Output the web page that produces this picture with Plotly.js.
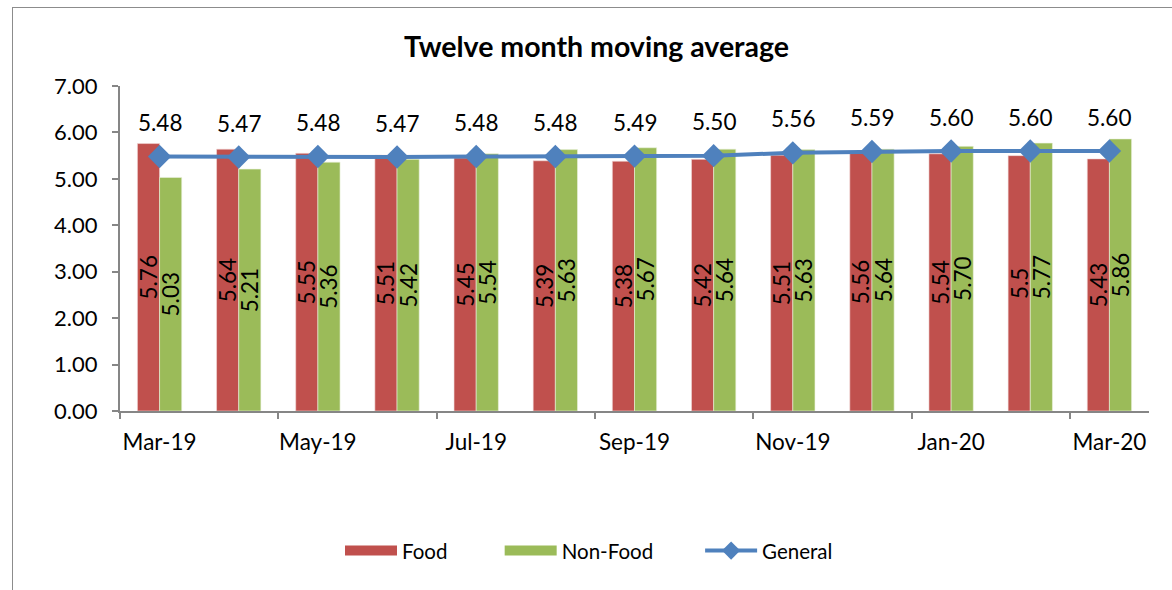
<!DOCTYPE html>
<html>
<head>
<meta charset="utf-8">
<script src="https://cdn.plot.ly/plotly-3.0.1.min.js"></script>
<style>
html,body{margin:0;padding:0;background:#fff;}
#wrap{position:relative;width:1172px;height:590px;overflow:hidden;}
#chart{width:1172px;height:590px;}
#frame{position:absolute;left:12px;top:7px;width:1300px;height:700px;border:1px solid #8c8c8c;pointer-events:none;}
</style>
</head>
<body>
<div id="wrap"><div id="chart"></div><div id="frame"></div></div>
<script>
const months = ["Mar-19","Apr-19","May-19","Jun-19","Jul-19","Aug-19","Sep-19","Oct-19","Nov-19","Dec-19","Jan-20","Feb-20","Mar-20"];
const food = [5.76,5.64,5.55,5.51,5.45,5.39,5.38,5.42,5.51,5.56,5.54,5.5,5.43];
const nonFood = [5.03,5.21,5.36,5.42,5.54,5.63,5.67,5.64,5.63,5.64,5.70,5.77,5.86];
const general = [5.48,5.47,5.48,5.47,5.48,5.48,5.49,5.50,5.56,5.59,5.60,5.60,5.60];
const yTicks = [0,1,2,3,4,5,6,7];

const idx = months.map((m,i)=>i);
const labelIdx = idx.filter(i=>i%2===0);
const boundaries = idx.filter(i=>i%2===0).map(i=>i-0.5);
const FONT = "Lato, 'Open Sans', sans-serif";
const RED = '#C0504D', GREEN = '#9BBB59', BLUE = '#4F81BD';
const pad = n => '\u00a0'.repeat(n);

const traces = [
  {type:'bar', name:'Food', x:idx, y:food, showlegend:false, marker:{color:RED, line:{color:'#f2dcdb', width:0.6}},
   text:food.map(v=>String(v)), textposition:'inside', insidetextanchor:'middle', textangle:-90,
   constraintext:'none', textfont:{family:FONT, size:22.5, color:'#000'}, cliponaxis:false, hoverinfo:'skip'},
  {type:'bar', name:'Non-Food', x:idx, y:nonFood, showlegend:false, marker:{color:GREEN, line:{color:'#ebf1de', width:0.6}},
   text:nonFood.map(v=>v.toFixed(2)), textposition:'inside', insidetextanchor:'middle', textangle:-90,
   constraintext:'none', textfont:{family:FONT, size:22.5, color:'#000'}, cliponaxis:false, hoverinfo:'skip'},
  {type:'scatter', mode:'lines+markers', name:'General', x:idx, y:general, showlegend:false,
   line:{color:BLUE, width:4}, marker:{symbol:'diamond', size:18, color:BLUE}, hoverinfo:'skip'},
  {type:'scatter', x:[], y:[], xaxis:'x2', showlegend:false, hoverinfo:'skip'},
  // legend keys
  {type:'scatter', mode:'lines', name:'Food'+pad(9), x:[null], y:[null], line:{color:RED, width:12}, hoverinfo:'skip'},
  {type:'scatter', mode:'lines', name:'Non-Food'+pad(8), x:[null], y:[null], line:{color:GREEN, width:12}, hoverinfo:'skip'},
  {type:'scatter', mode:'lines+markers', name:'General', x:[null], y:[null], line:{color:BLUE, width:4},
   marker:{symbol:'diamond', size:14, color:BLUE}, hoverinfo:'skip'}
];

const annotations = general.map((v,i)=>({
  x:i, y:v, xref:'x', yref:'y', text:v.toFixed(2), showarrow:false, yshift:34,
  font:{family:FONT, size:22.5, color:'#000'}
}));

const layout = {
  width:1172, height:590,
  margin:{l:120, r:23, t:86, b:179},
  paper_bgcolor:'#fff', plot_bgcolor:'#fff',
  font:{family:FONT, color:'#000'},
  title:{text:'<b>Twelve month moving average</b>', x:0.509, xanchor:'center', y:0.92, yanchor:'middle',
         font:{family:FONT, size:28.5, color:'#000'}},
  barmode:'group', bargap:0.44, bargroupgap:0,
  xaxis:{range:[-0.5,12.5], tickmode:'array', tickvals:boundaries, showticklabels:false,
         ticks:'outside', ticklen:6, tickcolor:'#868686', tickwidth:2,
         showline:true, linecolor:'#868686', linewidth:2, showgrid:false, zeroline:false, fixedrange:true},
  xaxis2:{overlaying:'x', anchor:'y', side:'bottom', range:[-0.5,12.5], tickmode:'array',
          tickvals:labelIdx, ticktext:labelIdx.map(i=>months[i]), ticks:'', showline:false, showgrid:false,
          zeroline:false, tickfont:{family:FONT, size:22.5, color:'#000'}, ticklabelstandoff:15},
  yaxis:{range:[0,7], tickmode:'array', tickvals:yTicks, ticktext:yTicks.map(v=>v.toFixed(2)),
         ticks:'outside', ticklen:6, tickcolor:'#868686', tickwidth:2,
         showline:true, linecolor:'#868686', linewidth:2, showgrid:false, zeroline:false,
         tickfont:{family:FONT, size:22, color:'#000'}, ticklabelstandoff:10},
  legend:{orientation:'h', x:0.2138, xanchor:'left', y:-0.43, yanchor:'middle',
          font:{family:FONT, size:20.5, color:'#000'}, itemwidth:52, traceorder:'normal'},
  annotations:annotations,
  showlegend:true
};

Plotly.newPlot('chart', traces, layout, {staticPlot:true, displayModeBar:false});
</script>
</body>
</html>
